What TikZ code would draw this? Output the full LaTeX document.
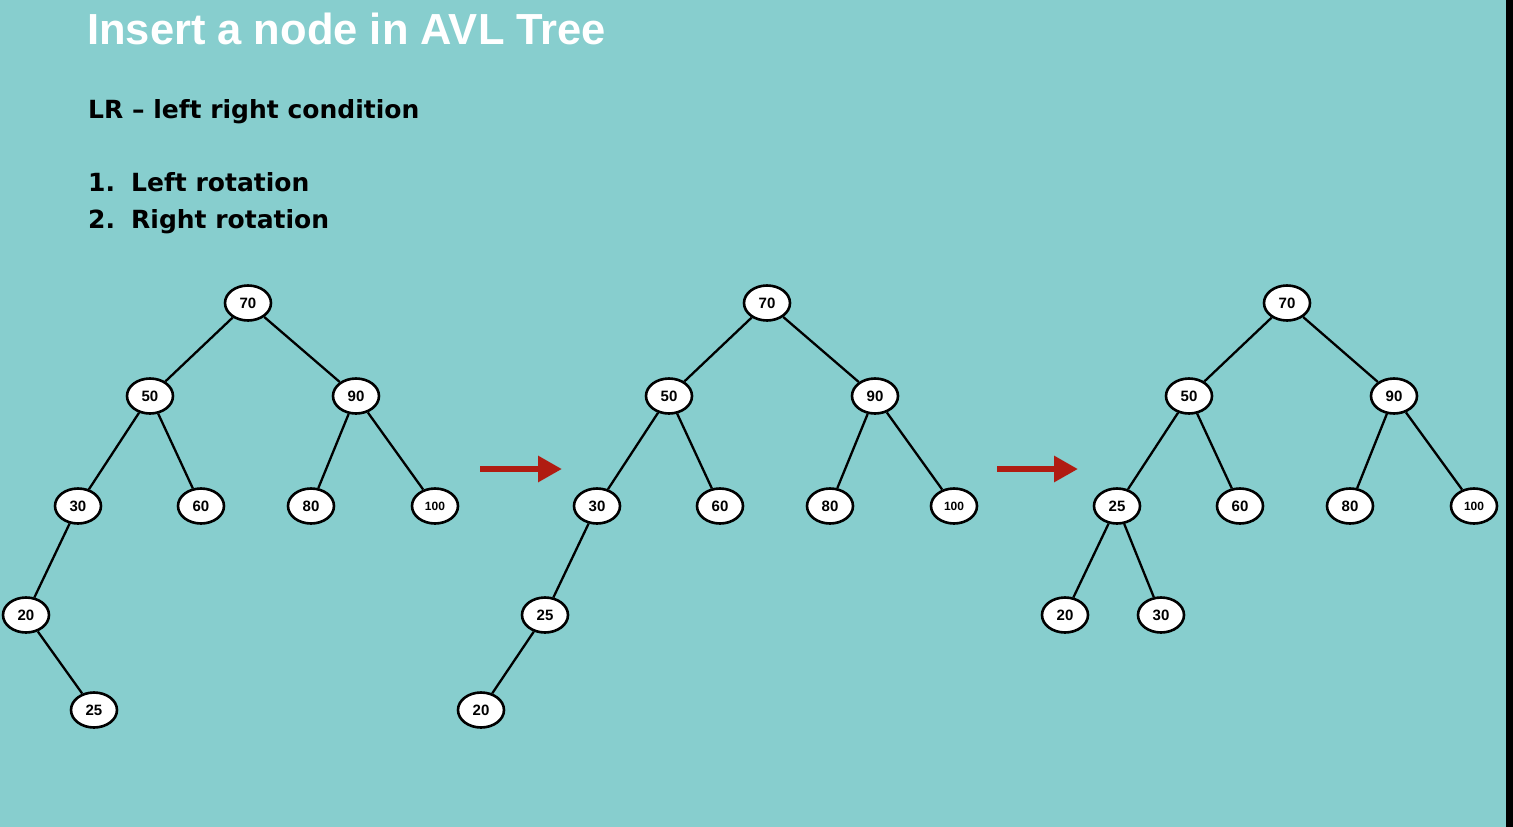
\documentclass[tikz,border=0pt]{standalone}
\usepackage{fontspec}
\setmainfont{Liberation Sans}
\newfontfamily\titlefont{Liberation Sans}
\newfontfamily\bodyfont{DejaVu Sans}
\usetikzlibrary{shapes.geometric,arrows.meta}
\definecolor{slidebg}{RGB}{135,206,206}
\definecolor{arrowred}{RGB}{176,28,18}
\tikzset{
  treenode/.style={ellipse, draw=black, line width=2.6pt, fill=white,
    minimum width=46pt, minimum height=35pt, inner sep=0pt,
    font=\fontsize{15}{15}\selectfont\bfseries},
  smallnum/.style={font=\fontsize{12}{12}\selectfont\bfseries},
  edge/.style={draw=black, line width=2.3pt},
  steparrow/.style={draw=arrowred, line width=6pt,
    -{Triangle[length=24pt,width=25pt,fill=arrowred]}},
  bodytext/.style={anchor=base west, inner sep=0,
    font=\bodyfont\fontsize{25}{25}\selectfont\bfseries}
}
\begin{document}
\begin{tikzpicture}[x=1pt,y=-1pt]
  % slide background and dark right border
  \fill[slidebg] (0,0) rectangle (1513,827);
  \fill[black] (1506,0) rectangle (1513,827);
  \useasboundingbox (0,0) rectangle (1513,827);

  % headings
  \node[anchor=base west, inner sep=0, text=white] (title) at (87,44)
    {\titlefont\fontsize{43.5}{43.5}\selectfont\bfseries Insert a node in AVL Tree};
  \node[bodytext] (cond) at (88,118) {LR \textendash{} left right condition};
  \node[bodytext] (n1) at (88,191) {1.};
  \node[bodytext] (s1) at (131,191) {Left rotation};
  \node[bodytext] (n2) at (88,228) {2.};
  \node[bodytext] (s2) at (131,228) {Right rotation};

  % tree before rotation
  \node[treenode] (a70) at (248,303) {70};
  \node[treenode] (a50) at (150,396) {50};
  \node[treenode] (a90) at (356,396) {90};
  \node[treenode] (a30) at (78,506) {30};
  \node[treenode] (a60) at (201,506) {60};
  \node[treenode] (a80) at (311,506) {80};
  \node[treenode,smallnum] (a100) at (435,506) {100};
  \node[treenode] (a20) at (26,615) {20};
  \node[treenode] (a25) at (94,710) {25};
  \draw[edge] (a70) -- (a50);
  \draw[edge] (a70) -- (a90);
  \draw[edge] (a50) -- (a30);
  \draw[edge] (a50) -- (a60);
  \draw[edge] (a90) -- (a80);
  \draw[edge] (a90) -- (a100);
  \draw[edge] (a30) -- (a20);
  \draw[edge] (a20) -- (a25);

  % tree after left rotation
  \node[treenode] (b70) at (767,303) {70};
  \node[treenode] (b50) at (669,396) {50};
  \node[treenode] (b90) at (875,396) {90};
  \node[treenode] (b30) at (597,506) {30};
  \node[treenode] (b60) at (720,506) {60};
  \node[treenode] (b80) at (830,506) {80};
  \node[treenode,smallnum] (b100) at (954,506) {100};
  \node[treenode] (b25) at (545,615) {25};
  \node[treenode] (b20) at (481,710) {20};
  \draw[edge] (b70) -- (b50);
  \draw[edge] (b70) -- (b90);
  \draw[edge] (b50) -- (b30);
  \draw[edge] (b50) -- (b60);
  \draw[edge] (b90) -- (b80);
  \draw[edge] (b90) -- (b100);
  \draw[edge] (b30) -- (b25);
  \draw[edge] (b25) -- (b20);

  % tree after right rotation
  \node[treenode] (c70) at (1287,303) {70};
  \node[treenode] (c50) at (1189,396) {50};
  \node[treenode] (c90) at (1394,396) {90};
  \node[treenode] (c25) at (1117,506) {25};
  \node[treenode] (c60) at (1240,506) {60};
  \node[treenode] (c80) at (1350,506) {80};
  \node[treenode,smallnum] (c100) at (1474,506) {100};
  \node[treenode] (c20) at (1065,615) {20};
  \node[treenode] (c30) at (1161,615) {30};
  \draw[edge] (c70) -- (c50);
  \draw[edge] (c70) -- (c90);
  \draw[edge] (c50) -- (c25);
  \draw[edge] (c50) -- (c60);
  \draw[edge] (c90) -- (c80);
  \draw[edge] (c90) -- (c100);
  \draw[edge] (c25) -- (c20);
  \draw[edge] (c25) -- (c30);

  % rotation arrows
  \coordinate (r1s) at (480,469);
  \coordinate (r1e) at (562,469);
  \coordinate (r2s) at (997,469);
  \coordinate (r2e) at (1078,469);
  \draw[steparrow] (r1s) -- (r1e);
  \draw[steparrow] (r2s) -- (r2e);
\end{tikzpicture}
\end{document}
